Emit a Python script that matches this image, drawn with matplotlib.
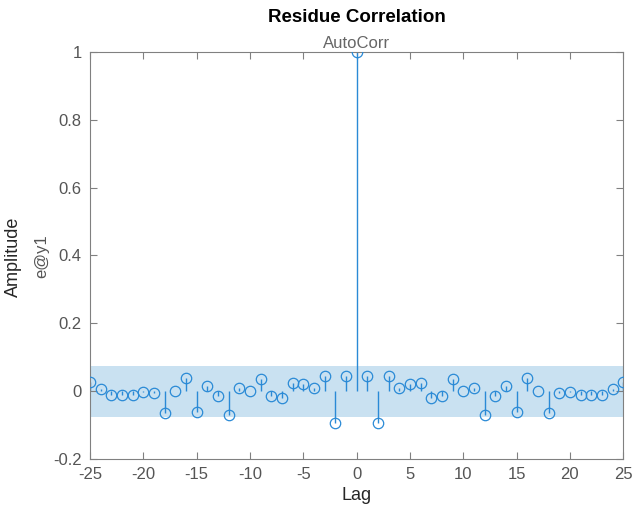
import numpy as np
import matplotlib
matplotlib.use("Agg")
import matplotlib.pyplot as plt

plt.rcParams['font.family'] = ['Liberation Sans', 'DejaVu Sans']
plt.rcParams['axes.unicode_minus'] = False

# Autocorrelation values for positive lags 1..25 (symmetric)
pos_vals = [0.045, -0.095, 0.045, 0.01, 0.02, 0.025, -0.02, -0.015, 0.035, 0.0,
            0.01, -0.07, -0.015, 0.015, -0.06, 0.04, 0.0, -0.065, -0.005, -0.003,
            -0.012, -0.01, -0.01, 0.008, 0.028]
lags = list(range(-25, 26))
values = pos_vals[::-1] + [1.0] + pos_vals
conf = 0.075
xticks = list(range(-25, 26, 5))
yticks = [-0.2, 0, 0.2, 0.4, 0.6, 0.8, 1]

blue = '#2a8ad6'
band = '#c9e1f1'
axcol = '#808080'
tickcol = '#555555'

fig = plt.figure(figsize=(6.34, 5.13), dpi=100)
ax = fig.add_axes([0.142, 0.105, 0.841, 0.794])

ax.fill_between([-25, 25], -conf, conf, color=band, linewidth=0, zorder=1)
ml, sl, bl = ax.stem(lags, values, basefmt=' ')
plt.setp(sl, color=blue, linewidth=1.0, zorder=2)
plt.setp(ml, markerfacecolor='none', markeredgecolor=blue, markersize=7.5,
         markeredgewidth=0.9, zorder=3)

ax.set_xlim(-25, 25)
ax.set_ylim(-0.2, 1.0)
ax.set_xticks(xticks)
ax.set_yticks(yticks)
ax.set_yticklabels(['-0.2', '0', '0.2', '0.4', '0.6', '0.8', '1'])
ax.tick_params(direction='in', length=5, colors=axcol, labelcolor=tickcol,
               labelsize=12, top=True, right=True, width=0.8, pad=6)
for s in ax.spines.values():
    s.set_color(axcol)
    s.set_linewidth(0.8)

ax.set_xlabel('Lag', fontsize=13, color='#262626', labelpad=3)
fig.text(0.022, 0.5, 'Amplitude', rotation=90, fontsize=13, color='#262626',
         ha='center', va='center')
fig.text(0.066, 0.5, 'e@y1', rotation=90, fontsize=12, color=tickcol,
         ha='center', va='center')
fig.text(0.5625, 0.965, 'Residue Correlation', fontsize=13.5, fontweight='bold',
         ha='center', va='center', color='black')
ax.set_title('AutoCorr', fontsize=12, color='#666666', pad=3)

fig.savefig('out.png', dpi=100)
